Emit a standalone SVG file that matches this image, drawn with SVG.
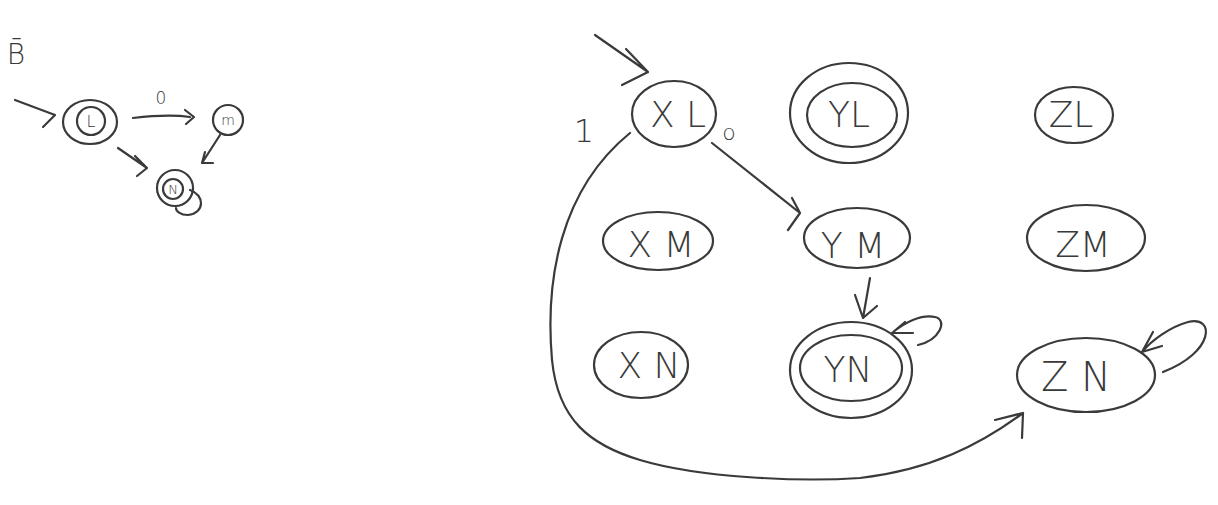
<svg xmlns="http://www.w3.org/2000/svg" width="1218" height="505" viewBox="0 0 1218 505">
<style>
.s{fill:none;stroke:#3a3a3a;stroke-width:2.2;stroke-linecap:round;stroke-linejoin:round}
.t{font-family:"DejaVu Sans","Liberation Sans",sans-serif;font-weight:300;fill:#3a3a3a;text-anchor:middle}
</style>
<rect width="1218" height="505" fill="#ffffff"/>
<text class="t" x="16" y="64" font-size="28">B̄</text>
<g id="L"><ellipse class="s" cx="90" cy="122" rx="27" ry="22"/><circle class="s" cx="91" cy="121" r="14"/><text class="t" x="91" y="127" font-size="16">L</text></g>
<g id="M"><circle class="s" cx="228" cy="120" r="15"/><text class="t" x="228" y="125" font-size="14">m</text></g>
<g id="N"><circle class="s" cx="175" cy="188" r="18"/><circle class="s" cx="173" cy="189" r="10"/><text class="t" x="173" y="194" font-size="13">N</text></g>
<g id="XL"><ellipse class="s" cx="674" cy="114" rx="42" ry="33"/><text class="t" x="678" y="127" font-size="36">X L</text></g>
<g id="YL"><ellipse class="s" cx="849" cy="113" rx="59" ry="50"/><ellipse class="s" cx="852" cy="115" rx="45" ry="32"/><text class="t" x="849" y="127" font-size="36">YL</text></g>
<g id="ZL"><ellipse class="s" cx="1074" cy="115" rx="39" ry="28"/><text class="t" x="1071" y="127" font-size="36">ZL</text></g>
<g id="XM"><ellipse class="s" cx="658" cy="241" rx="55" ry="29"/><text class="t" x="661" y="257" font-size="36">X M</text></g>
<g id="YM"><ellipse class="s" cx="857" cy="238" rx="53" ry="30"/><text class="t" x="853" y="258" font-size="36">Y M</text></g>
<g id="ZM"><ellipse class="s" cx="1086" cy="238" rx="59" ry="33"/><text class="t" x="1083" y="257" font-size="36">ZM</text></g>
<g id="XN"><ellipse class="s" cx="641" cy="365" rx="47" ry="33"/><text class="t" x="649" y="378" font-size="36">X N</text></g>
<g id="YN"><ellipse class="s" cx="851" cy="370" rx="61" ry="48"/><ellipse class="s" cx="851" cy="368" rx="51" ry="33"/><text class="t" x="848" y="382" font-size="36">YN</text></g>
<g id="ZN"><ellipse class="s" cx="1086" cy="375" rx="69" ry="37"/><text class="t" x="1076" y="391" font-size="40">Z N</text></g>
<g id="connectors">
<path class="s" d="M15 100 L55 115 M55 115 L43 127"/>
<path class="s" d="M133 118 C150 116 170 114 190 117 M185 110 L194 117 L186 124"/>
<text class="t" x="161" y="104" font-size="17">0</text>
<path class="s" d="M220 135 L202 163 M202 163 L213 163 M202 163 L205 152"/>
<path class="s" d="M118 148 L147 168 M147 168 L137 176 M147 168 L135 156"/>
<path class="s" d="M190 190 C205 195 205 213 188 215 C180 215 176 211 176 208"/>
<path class="s" d="M595 35 L648 72 M648 72 L622 85 M648 72 L626 49"/>
<text class="t" x="584" y="142" font-size="32">1</text>
<text class="t" x="729" y="140" font-size="22">o</text>
<path class="s" d="M712 143 L800 213 M800 213 L792 198 M800 213 L788 230"/>
<path class="s" d="M870 278 L863 318 M863 318 L855 295 M863 318 L877 306"/>
<path class="s" d="M918 345 C940 340 948 320 935 317 C922 314 905 322 892 333 M892 333 L905 322 M892 333 L913 333"/>
<path class="s" d="M1163 372 C1215 352 1215 315 1188 322 C1170 327 1152 340 1142 352 M1142 352 L1153 332 M1142 352 L1162 346"/>
<path class="s" d="M630 133 C560 190 545 280 552 360 C558 420 590 445 640 460 C700 478 800 482 860 478 C930 470 980 445 1023 413 M1023 413 L995 420 M1023 413 L1022 438"/>
</g>
</svg>
